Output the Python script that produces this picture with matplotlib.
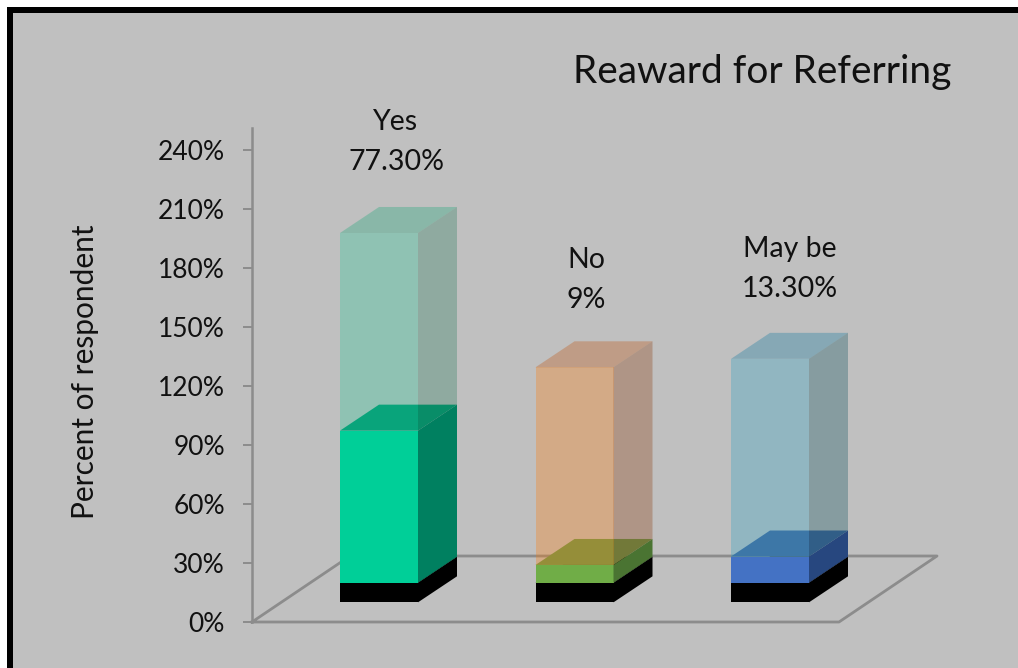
import matplotlib.pyplot as plt
from matplotlib.patches import Polygon, Rectangle

plt.rcParams["font.family"] = ["Lato", "DejaVu Sans"]

# -------------------------------------------------
# Data
# -------------------------------------------------

categories = ["Yes", "No", "May be"]
value_labels = ["77.30%", "9%", "13.30%"]
values = [77.3, 9, 13.3]
base_block = [10, 10, 10]
ghost_block = [100.5, 100.5, 100.5]
y_ticks = [0, 30, 60, 90, 120, 150, 180, 210, 240]

# -------------------------------------------------
# Colours (front, top, side)
# -------------------------------------------------

BACKGROUND = "#c0c0c0"
AXIS_COLOR = "#8c8c8c"
VALUE_COLORS = [
    ("#00cf98", "#009671", "#008060"),
    ("#70ad47", "#689852", "#4a7432"),
    ("#4472c4", "#47679b", "#27477f"),
]
GHOST_COLORS = [
    ("#20c795", "#0ca573", "#207a56"),
    ("#ff7a02", "#bd4b00", "#8a3400"),
    ("#269fc6", "#00739e", "#004b59"),
]
GHOST_ALPHA = 0.3

# -------------------------------------------------
# Layout (pixels, 1018x668 at dpi 100)
# -------------------------------------------------

W, H = 1018, 668
AX_LEFT, AX_RIGHT = 252, 937
AX_BOTTOM, AX_TOP = 622, 128
PX_PER_PERCENT = 59 / 30
PX_PER_CATEGORY = 195.5
FIRST_CENTER = 379
LIFT = 10  # bars float this far above the floor

BAR_WIDTH = 78 / PX_PER_CATEGORY
BAR_DX = 39 / PX_PER_CATEGORY
BAR_DY = 26 / PX_PER_PERCENT
FLOOR_DX = 98 / PX_PER_CATEGORY
FLOOR_DY = 66 / PX_PER_PERCENT

fig = plt.figure(figsize=(W / 100, H / 100), dpi=100, facecolor="white")

# black frame, runs off the right and bottom of the picture
fig.patches.append(
    Rectangle((7 / W, -0.1), 1.1, (H - 7) / H + 0.1, transform=fig.transFigure,
              facecolor="black", edgecolor="none")
)
fig.patches.append(
    Rectangle((13 / W, -0.1), 1.1, (H - 13) / H + 0.1, transform=fig.transFigure,
              facecolor=BACKGROUND, edgecolor="none")
)

ax = fig.add_axes([
    AX_LEFT / W,
    (H - AX_BOTTOM) / H,
    (AX_RIGHT - AX_LEFT) / W,
    (AX_BOTTOM - AX_TOP) / H,
])
ax.set_zorder(5)
ax.patch.set_visible(False)
ax.set_xlim(
    (AX_LEFT - FIRST_CENTER) / PX_PER_CATEGORY,
    (AX_RIGHT - FIRST_CENTER) / PX_PER_CATEGORY,
)
ax.set_ylim(0, (AX_BOTTOM - AX_TOP) / PX_PER_PERCENT)

for side in ["top", "right", "bottom"]:
    ax.spines[side].set_visible(False)
ax.spines["left"].set_color(AXIS_COLOR)
ax.spines["left"].set_linewidth(1.8)

ax.set_xticks([])
ax.set_yticks(y_ticks)
ax.set_yticklabels([f"{t}%" for t in y_ticks], fontsize=19, color="#111111")
ax.tick_params(axis="y", length=6.5, width=1.4, color=AXIS_COLOR, pad=13)


def draw_block(x, bottom, height, colors, alpha=1.0, zorder=3):
    left = x - BAR_WIDTH / 2
    right = x + BAR_WIDTH / 2
    top = bottom + height
    front, upper, side = colors
    ax.add_patch(Polygon(
        [(left, bottom), (right, bottom), (right, top), (left, top)],
        facecolor=front, edgecolor="none", alpha=alpha, zorder=zorder,
    ))
    ax.add_patch(Polygon(
        [(left, top), (left + BAR_DX, top + BAR_DY),
         (right + BAR_DX, top + BAR_DY), (right, top)],
        facecolor=upper, edgecolor="none", alpha=alpha, zorder=zorder,
    ))
    ax.add_patch(Polygon(
        [(right, bottom), (right + BAR_DX, bottom + BAR_DY),
         (right + BAR_DX, top + BAR_DY), (right, top)],
        facecolor=side, edgecolor="none", alpha=alpha, zorder=zorder + 0.5,
    ))


# -------------------------------------------------
# Floor
# -------------------------------------------------

x_floor_left, x_floor_right = ax.get_xlim()
ax.plot(
    [x_floor_left, x_floor_right - FLOOR_DX, x_floor_right,
     x_floor_left + FLOOR_DX, x_floor_left],
    [0, 0, FLOOR_DY, FLOOR_DY, 0],
    color=AXIS_COLOR, linewidth=2, zorder=2, clip_on=False,
)

# -------------------------------------------------
# Bars
# -------------------------------------------------

for i in range(len(categories)):
    draw_block(i, LIFT, base_block[i], ("black", "black", "black"), zorder=3)
    value_bottom = LIFT + base_block[i]
    draw_block(i, value_bottom, values[i], VALUE_COLORS[i], zorder=4)
    draw_block(i, value_bottom + values[i], ghost_block[i], GHOST_COLORS[i],
               alpha=GHOST_ALPHA, zorder=6)

# -------------------------------------------------
# Text
# -------------------------------------------------

label_x = [396, 586, 790]
label_y = [142, 280, 269]
for i in range(len(categories)):
    fig.text(
        label_x[i] / W, 1 - label_y[i] / H,
        f"{categories[i]}\n{value_labels[i]}",
        ha="center", va="center", fontsize=20.5, linespacing=1.65, color="#111111",
    )

fig.text(762 / W, 1 - 72 / H, "Reaward for Referring", ha="center", va="center",
         fontsize=28, color="#111111")
fig.text(85 / W, 1 - 372 / H, "Percent of respondent", ha="center", va="center",
         rotation=90, fontsize=21.5, color="#111111")

plt.savefig("out.png", dpi=100)
